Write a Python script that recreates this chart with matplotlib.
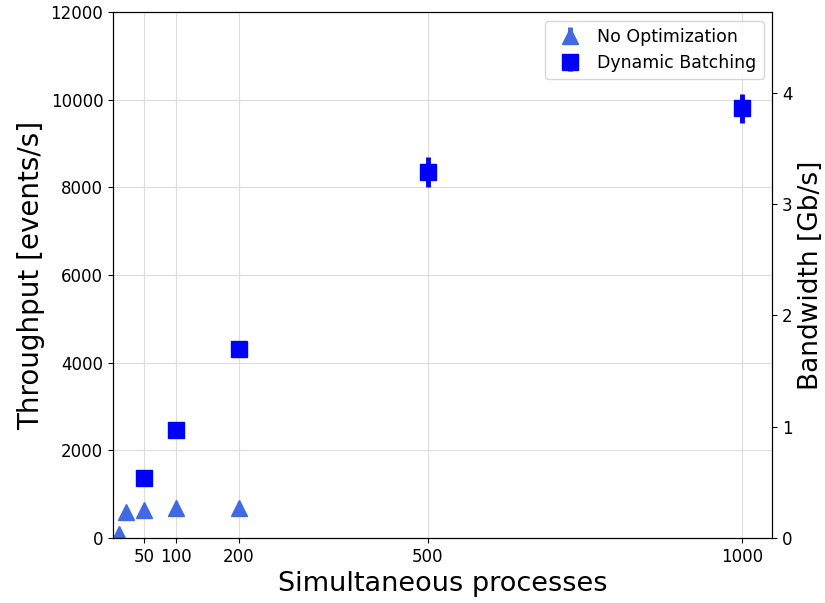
import matplotlib.pyplot as plt

# Simultaneous processes vs throughput
procs_noopt = [10, 20, 50, 100, 200]
thr_noopt = [80, 600, 640, 680, 680]
err_noopt = [0, 0, 0, 0, 0]

procs_batch = [50, 100, 200, 500, 1000]
thr_batch = [1370, 2460, 4300, 8350, 9800]
err_batch = [0, 0, 0, 340, 340]

xticks = [50, 100, 200, 500, 1000]

fig, ax1 = plt.subplots(figsize=(8.25, 6.03), dpi=100)
fig.subplots_adjust(left=0.137, right=0.936, top=0.980, bottom=0.108)

ax1.errorbar(procs_noopt, thr_noopt, yerr=err_noopt, fmt='^', color='royalblue',
             markersize=11.5, elinewidth=3.5, label='No Optimization')
ax1.errorbar(procs_batch, thr_batch, yerr=err_batch, fmt='s', color='blue',
             markersize=11.5, elinewidth=3.5, label='Dynamic Batching')

ax1.set_xlim(0, 1048)
ax1.set_ylim(0, 12000)
ax1.set_xticks(xticks)
ax1.tick_params(labelsize=12)
ax1.grid(True, color='#dddddd')
ax1.set_xlabel('Simultaneous processes', fontsize=19.5)
ax1.set_ylabel('Throughput [events/s]', fontsize=20)
ax1.legend(loc='upper right', fontsize=12.5, handletextpad=0.6)

ax2 = ax1.twinx()
ax2.set_ylim(0, 4.728)
ax2.set_yticks([0, 1, 2, 3, 4])
ax2.tick_params(labelsize=12)
ax2.set_ylabel('Bandwidth [Gb/s]', fontsize=19)

fig.savefig('out.png')
